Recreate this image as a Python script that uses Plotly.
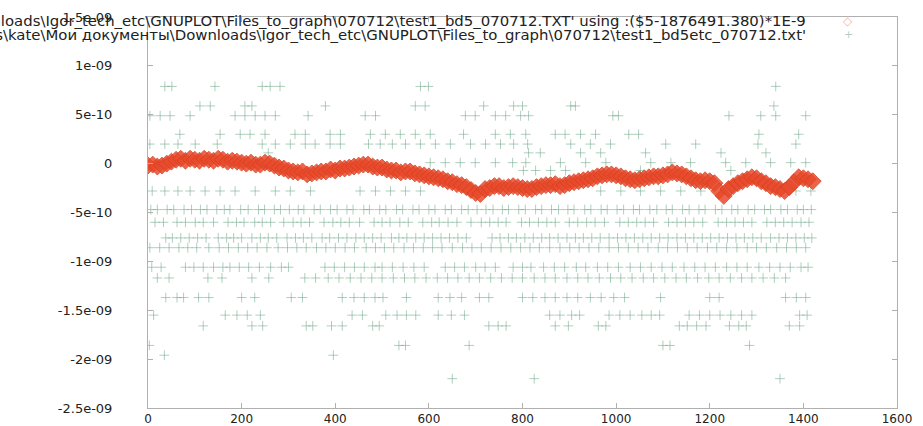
import plotly.graph_objects as go

# ---- Series 1 (red diamonds): x index and value in units of 1e-10 ----
red_x = list(range(0, 1421, 10))
red_y_e10 = [-0.2, -0.1, -0.3, -0.2, 0.0, 0.2, 0.4, 0.5, 0.3, 0.5,
             0.4, 0.3, 0.5, 0.4, 0.3, 0.5, 0.4, 0.2, 0.3, 0.2,
             0.1, 0.0, 0.1, -0.1, -0.1, 0.1, 0.0, -0.2, -0.4, -0.5,
             -0.7, -0.8, -0.9, -0.8, -1.1, -1.0, -0.9, -0.8, -0.8, -0.6,
             -0.7, -0.5, -0.5, -0.4, -0.3, -0.2, -0.1, -0.1, -0.3, -0.4,
             -0.4, -0.6, -0.7, -0.7, -0.9, -0.8, -0.8, -1.0, -1.1, -1.2,
             -1.3, -1.4, -1.5, -1.6, -1.8, -1.9, -2.1, -2.2, -2.4, -2.7,
             -3.0, -3.1, -2.6, -2.5, -2.3, -2.3, -2.5, -2.4, -2.3, -2.4,
             -2.5, -2.6, -2.6, -2.4, -2.3, -2.2, -2.2, -2.1, -2.3, -2.2,
             -2.0, -1.9, -1.8, -1.7, -1.6, -1.5, -1.3, -1.2, -1.1, -1.1,
             -1.2, -1.3, -1.5, -1.6, -1.7, -1.6, -1.5, -1.4, -1.3, -1.3,
             -1.2, -1.1, -0.9, -1.0, -1.1, -1.3, -1.5, -1.7, -1.8, -1.7,
             -1.8, -2.0, -2.8, -3.3, -2.6, -2.3, -2.0, -1.8, -1.6, -1.4,
             -1.5, -1.8, -2.0, -2.3, -2.4, -2.6, -2.8, -2.4, -1.9, -1.4,
             -1.5, -1.6, -1.8]

# ---- Series 2 (green pluses): quantized levels (units of 1e-10) and x positions ----
green_levels_e10 = [7.9, 5.9, 4.9, 3.0, 2.0, 1.1, 0.1, -0.7, -2.8, -4.7, -6.0,
                    -7.6, -8.6, -10.6, -11.7, -13.7, -15.5, -16.6, -18.6, -19.6, -22.0]
green_x_by_level = [
    [36, 51, 143, 244, 261, 282, 582, 599, 1341],
    [111, 133, 207, 222, 379, 571, 592, 717, 781, 800, 903, 913, 1337],
    [4, 26, 47, 90, 186, 207, 229, 250, 272, 342, 464, 486, 678, 699, 742, 764, 796,
     813, 993, 1005, 1241, 1309, 1341, 1405],
    [68, 154, 197, 218, 250, 314, 336, 389, 411, 475, 507, 539, 571, 603, 674, 742,
     774, 807, 870, 891, 924, 956, 1027, 1048, 1305, 1390],
    [4, 36, 64, 101, 148, 244, 272, 304, 336, 357, 389, 411, 471, 496, 522, 550, 582,
     614, 646, 689, 721, 753, 781, 811, 903, 945, 988, 1106, 1170, 1303, 1384],
    [257, 813, 838, 924, 967, 1063, 1224, 1320],
    [603, 635, 667, 699, 742, 779, 807, 881, 935, 978, 1074, 1117, 1159, 1234, 1277,
     1330, 1373, 1405],
    [802, 828, 860, 892, 1052, 1245],
    [9, 36, 64, 90, 122, 154, 186, 229, 272, 304, 347, 453, 486, 518, 550, 582, 967,
     1010, 1052, 1095, 1138, 1181, 1341, 1384, 1416],
    [6, 20, 41, 55, 77, 93, 112, 126, 147, 163, 175, 198, 214, 236, 249, 270, 283, 302,
     321, 333, 355, 368, 390, 404, 425, 438, 461, 473, 495, 508, 531, 544, 566, 579,
     600, 613, 635, 648, 670, 684, 703, 722, 737, 757, 770, 792, 806, 828, 841, 862,
     877, 897, 910, 933, 946, 968, 981, 1002, 1016, 1037, 1050, 1072, 1087, 1107,
     1120, 1142, 1156, 1177, 1190, 1212, 1226, 1247, 1260, 1282, 1296, 1317, 1330,
     1352, 1366, 1387, 1400, 1417],
    [15, 33, 62, 80, 101, 118, 140, 171, 189, 205, 228, 244, 262, 290, 310, 327, 345,
     376, 395, 412, 430, 452, 483, 500, 517, 538, 556, 587, 606, 622, 641, 660, 690,
     712, 730, 748, 765, 798, 815, 834, 852, 870, 900, 918, 937, 955, 975, 1008, 1026,
     1044, 1062, 1080, 1112, 1130, 1148, 1166, 1185, 1218, 1236, 1254, 1272, 1290,
     1322, 1340, 1358, 1376, 1395, 1412],
    [38, 52, 70, 88, 106, 124, 150, 168, 183, 200, 222, 240, 257, 275, 297, 315, 332,
     350, 372, 388, 407, 425, 444, 462, 480, 498, 520, 536, 553, 572, 590, 608, 626,
     644, 662, 680, 735, 752, 770, 787, 805, 823, 841, 858, 876, 895, 913, 930, 948,
     966, 985, 1003, 1021, 1039, 1057, 1075, 1093, 1111, 1130, 1148, 1166, 1184,
     1202, 1220, 1238, 1256, 1274, 1292, 1310, 1330, 1348, 1366, 1384, 1402, 1418],
    [4, 25, 45, 66, 85, 104, 130, 152, 172, 193, 213, 233, 254, 278, 298, 318, 338,
     360, 380, 400, 421, 441, 466, 486, 505, 525, 547, 567, 588, 608, 628, 650, 672,
     692, 712, 733, 754, 775, 796, 816, 836, 858, 880, 901, 921, 942, 963, 985, 1005,
     1026, 1047, 1068, 1090, 1110, 1131, 1152, 1173, 1195, 1215, 1236, 1258, 1280,
     1300, 1321, 1343, 1364, 1385, 1405],
    [8, 28, 80, 98, 118, 140, 160, 175, 195, 215, 238, 262, 285, 300, 378, 398, 420,
     441, 462, 485, 500, 522, 545, 568, 590, 635, 655, 676, 700, 720, 742, 780, 800,
     818, 845, 868, 890, 915, 935, 960, 982, 1005, 1030, 1052, 1075, 1098, 1120, 1145,
     1168, 1190, 1212, 1236, 1258, 1280, 1305, 1328, 1350, 1372, 1395, 1410],
    [20, 45, 128, 158, 222, 258, 335, 358, 385, 408, 432, 455, 478, 500, 524, 548, 570,
     594, 618, 640, 662, 686, 708, 732, 755, 778, 800, 825, 848, 870, 895, 918, 940,
     964, 988, 1010, 1034, 1058, 1080, 1104, 1128, 1150, 1174, 1198, 1220, 1244, 1268,
     1290, 1314, 1338, 1362],
    [38, 62, 76, 108, 130, 200, 228, 306, 330, 415, 440, 462, 485, 502, 552, 620, 645,
     670, 708, 728, 800, 822, 848, 870, 895, 918, 945, 968, 995, 1018, 1095, 1200,
     1220, 1362, 1385, 1405],
    [12, 165, 190, 212, 240, 436, 458, 508, 532, 552, 572, 620, 648, 676, 858, 880, 905,
     922, 985, 1008, 1030, 1055, 1075, 1093, 1156, 1178, 1200, 1222, 1245, 1268, 1290,
     1392, 1408],
    [118, 222, 245, 338, 352, 392, 415, 480, 494, 728, 748, 765, 870, 898, 962, 978,
     1135, 1152, 1172, 1192, 1242, 1262, 1278, 1370, 1392],
    [3, 536, 550, 686, 1100, 1115, 1285],
    [35, 396],
    [650, 825, 1350],
]

y_tick_vals = [1.5e-9, 1e-9, 5e-10, 0, -5e-10, -1e-9, -1.5e-9, -2e-9, -2.5e-9]
y_tick_text = ["1.5e-09", "1e-09", "5e-10", "0", "-5e-10", "-1e-09", "-1.5e-09", "-2e-09", "-2.5e-09"]
x_tick_vals = [0, 200, 400, 600, 800, 1000, 1200, 1400, 1600]

legend_1 = ("'C:\\Documents and Settings\\kate\\Мои документы\\Downloads\\Igor_tech_etc\\GNUPLOT\\"
            "Files_to_graph\\070712\\test1_bd5_070712.TXT' using :($5-1876491.380)*1E-9")
legend_2 = ("'C:\\Documents and Settings\\kate\\Мои документы\\Downloads\\Igor_tech_etc\\GNUPLOT\\"
            "Files_to_graph\\070712\\test1_bd5etc_070712.txt'")

# build flattened green arrays
green_x, green_y = [], []
for lvl, xs in zip(green_levels_e10, green_x_by_level):
    for xv in xs:
        green_x.append(xv)
        green_y.append(lvl * 1e-10)

red_y = [v * 1e-10 for v in red_y_e10]

FONT = "DejaVu Sans"
RED = "#e84a2c"
GREEN = "rgba(95,160,125,0.5)"

fig = go.Figure()
fig.add_trace(go.Scatter(
    x=green_x, y=green_y, mode="markers",
    marker=dict(symbol="cross-thin-open", size=7, color=GREEN,
                line=dict(width=1, color=GREEN)),
    showlegend=False, hoverinfo="skip"))
fig.add_trace(go.Scatter(
    x=red_x, y=red_y, mode="markers",
    marker=dict(symbol="diamond", size=13, color=RED, opacity=0.85,
                line=dict(width=1, color="#d8401f")),
    showlegend=False, hoverinfo="skip"))

axis_common = dict(showline=True, linecolor="#b0b0b0", linewidth=1, mirror="ticks",
                   ticks="inside", ticklen=5, tickcolor="#b0b0b0", showgrid=False,
                   zeroline=False, automargin=False)

fig.update_xaxes(range=[0, 1600], tickvals=x_tick_vals,
                 ticktext=[str(v) for v in x_tick_vals],
                 tickfont=dict(family=FONT, size=12, color="#222"), **axis_common)
fig.update_yaxes(range=[-2.5e-9, 1.5e-9], tickvals=y_tick_vals, ticktext=y_tick_text,
                 ticklabelstandoff=32,
                 tickfont=dict(family=FONT, size=13, color="#222"), **axis_common)

# gnuplot-style legend: text right-aligned, sample to the right
fig.add_annotation(xref="paper", yref="paper", x=0.881, y=0.991, xanchor="right",
                   yanchor="middle", text=legend_1, showarrow=False,
                   font=dict(family=FONT, size=14.9, color="#222"))
fig.add_annotation(xref="paper", yref="paper", x=0.881, y=0.955, xanchor="right",
                   yanchor="middle", text=legend_2, showarrow=False,
                   font=dict(family=FONT, size=14.9, color="#222"))
fig.add_annotation(xref="paper", yref="paper", x=0.935, y=0.991, xanchor="center",
                   yanchor="middle", text="◇", showarrow=False,
                   font=dict(family=FONT, size=12, color="rgba(232,74,44,0.45)"))
fig.add_annotation(xref="paper", yref="paper", x=0.935, y=0.955, xanchor="center",
                   yanchor="middle", text="+", showarrow=False,
                   font=dict(family=FONT, size=11, color="rgba(95,160,125,0.5)"))

fig.update_layout(width=923, height=426, margin=dict(l=148, r=26, t=17, b=18),
                  paper_bgcolor="white", plot_bgcolor="white")

fig.write_html("out.html", config={"displayModeBar": False},
               post_script="document.body.style.margin='0';")
